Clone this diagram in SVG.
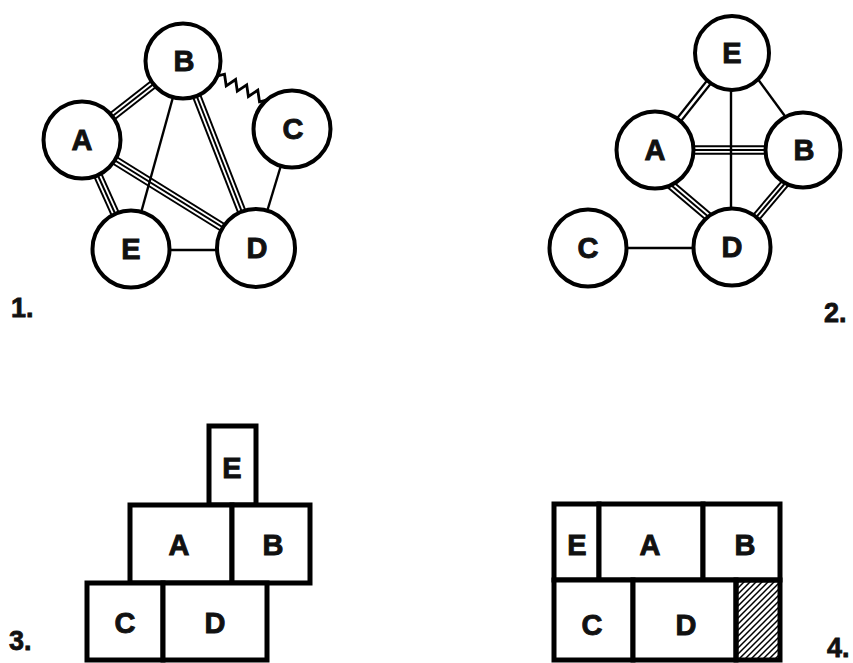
<svg xmlns="http://www.w3.org/2000/svg" xmlns:xlink="http://www.w3.org/1999/xlink" width="853" height="663" viewBox="0 0 853 663">
<style>
.bg{fill:#fff}
.node circle{fill:#fff;stroke:#000;stroke-width:4}
.box rect{fill:#fff;stroke:#000;stroke-width:5}
.lbl{font-family:"Liberation Sans",Arial,sans-serif;font-weight:bold;font-size:29px;fill:#111;stroke:#111;stroke-width:0.9;text-anchor:middle}
.num{font-family:"Liberation Sans",Arial,sans-serif;font-weight:bold;font-size:27px;fill:#111;stroke:#111;stroke-width:0.8}
.s{stroke:#000;stroke-width:2.4;fill:none}
.z{stroke:#000;stroke-width:2.8;fill:none;stroke-linejoin:miter}
.t1{stroke:#000;stroke-width:9.5;fill:none}
.t2{stroke:#fff;stroke-width:5.6;fill:none}
.t3{stroke:#000;stroke-width:2;fill:none}
.d1{stroke:#000;stroke-width:7;fill:none}
.d2{stroke:#fff;stroke-width:2.6;fill:none}
</style>
<defs>
<pattern id="hatch" patternUnits="userSpaceOnUse" width="6" height="6">
<path d="M-1,1 L1,-1 M0,6 L6,0 M5,7 L7,5" stroke="#000" stroke-width="1.5"/>
</pattern>
<path id="e1AB" d="M82,140 L183,61"/>
<path id="e1BD" d="M183,61 L256,248"/>
<path id="e1AD" d="M82,140 L256,248"/>
<path id="e1AE" d="M82,140 L131,249"/>
<path id="e2AB" d="M655,150 L803,150"/>
<path id="e2AD" d="M665,180 L717,224"/>
<path id="e2BD" d="M787,181 L753,221"/>
<path id="e2EA" d="M732,53 L655,150"/>
</defs>
<rect class="bg" x="0" y="0" width="853" height="663"/>

<g id="connectors">
<!-- diagram 1 -->
<g class="triple"><use xlink:href="#e1AB" class="t1"/><use xlink:href="#e1AB" class="t2"/><use xlink:href="#e1AB" class="t3"/></g>
<g class="triple"><use xlink:href="#e1BD" class="t1"/><use xlink:href="#e1BD" class="t2"/><use xlink:href="#e1BD" class="t3"/></g>
<g class="triple"><use xlink:href="#e1AD" class="t1"/><use xlink:href="#e1AD" class="t2"/><use xlink:href="#e1AD" class="t3"/></g>
<g class="triple"><use xlink:href="#e1AE" class="t1"/><use xlink:href="#e1AE" class="t2"/><use xlink:href="#e1AE" class="t3"/></g>
<line class="s" x1="183" y1="61" x2="131" y2="249"/>
<line class="s" x1="131" y1="250" x2="256" y2="250"/>
<line class="s" x1="292" y1="129" x2="256" y2="248"/>
<polyline class="z" points="210,73 217,76 224.5,74.2 226.2,85.8 235.6,79.5 237.3,91.2 246.7,84.8 248.4,96.5 257.8,90.2 259.5,101.8 267,100 274,103"/>
<!-- diagram 2 -->
<g class="double"><use xlink:href="#e2EA" class="d1"/><use xlink:href="#e2EA" class="d2"/></g>
<g class="triple"><use xlink:href="#e2AB" class="t1"/><use xlink:href="#e2AB" class="t2"/><use xlink:href="#e2AB" class="t3"/></g>
<g class="triple"><use xlink:href="#e2AD" class="t1"/><use xlink:href="#e2AD" class="t2"/><use xlink:href="#e2AD" class="t3"/></g>
<g class="triple"><use xlink:href="#e2BD" class="t1"/><use xlink:href="#e2BD" class="t2"/><use xlink:href="#e2BD" class="t3"/></g>
<line class="s" x1="731" y1="53" x2="731" y2="247"/>
<line class="s" x1="752" y1="71" x2="790" y2="123"/>
<line class="s" x1="588" y1="248" x2="732" y2="248"/>
</g>

<!-- diagram 1 nodes -->
<g id="d1-A" class="node"><circle cx="82" cy="140" r="38.5"/><text class="lbl" x="82" y="150">A</text></g>
<g id="d1-B" class="node"><circle cx="183" cy="61" r="37.5"/><text class="lbl" x="184" y="71">B</text></g>
<g id="d1-C" class="node"><circle cx="292" cy="129" r="38.5"/><text class="lbl" x="293" y="139">C</text></g>
<g id="d1-E" class="node"><circle cx="131" cy="249" r="38.5"/><text class="lbl" x="131" y="259">E</text></g>
<g id="d1-D" class="node"><circle cx="256" cy="248" r="39"/><text class="lbl" x="257" y="258">D</text></g>

<!-- diagram 2 nodes -->
<g id="d2-E" class="node"><circle cx="732" cy="53" r="37"/><text class="lbl" x="732" y="63">E</text></g>
<g id="d2-A" class="node"><circle cx="655" cy="150" r="38.5"/><text class="lbl" x="655" y="160">A</text></g>
<g id="d2-B" class="node"><circle cx="803" cy="150" r="37.5"/><text class="lbl" x="804" y="160">B</text></g>
<g id="d2-D" class="node"><circle cx="732" cy="247" r="38.5"/><text class="lbl" x="732" y="257">D</text></g>
<g id="d2-C" class="node"><circle cx="588" cy="248" r="38.5"/><text class="lbl" x="588" y="258">C</text></g>

<!-- diagram 3 boxes -->
<g id="d3-E" class="box"><rect x="209" y="426" width="47" height="79"/><text class="lbl" x="232" y="478">E</text></g>
<g id="d3-A" class="box"><rect x="130" y="505" width="102" height="78"/><text class="lbl" x="179" y="555">A</text></g>
<g id="d3-B" class="box"><rect x="232" y="505" width="78" height="78"/><text class="lbl" x="273" y="555">B</text></g>
<g id="d3-C" class="box"><rect x="87" y="583" width="76" height="77"/><text class="lbl" x="125" y="633">C</text></g>
<g id="d3-D" class="box"><rect x="163" y="583" width="104" height="77"/><text class="lbl" x="215" y="633">D</text></g>

<!-- diagram 4 boxes -->
<g id="d4-E" class="box"><rect x="554" y="504" width="45" height="76"/><text class="lbl" x="577" y="555">E</text></g>
<g id="d4-A" class="box"><rect x="599" y="504" width="104" height="76"/><text class="lbl" x="650" y="555">A</text></g>
<g id="d4-B" class="box"><rect x="703" y="504" width="77" height="76"/><text class="lbl" x="745" y="555">B</text></g>
<g id="d4-C" class="box"><rect x="554" y="580" width="79" height="80"/><text class="lbl" x="592" y="635">C</text></g>
<g id="d4-D" class="box"><rect x="633" y="580" width="103" height="80"/><text class="lbl" x="686" y="635">D</text></g>
<g id="d4-hatch" class="box"><rect x="736" y="580" width="44" height="80" style="fill:url(#hatch)"/></g>

<text class="num" x="11" y="317">1.</text>
<text class="num" x="824" y="322">2.</text>
<text class="num" x="9" y="650">3.</text>
<text class="num" x="827" y="657">4.</text>
</svg>
